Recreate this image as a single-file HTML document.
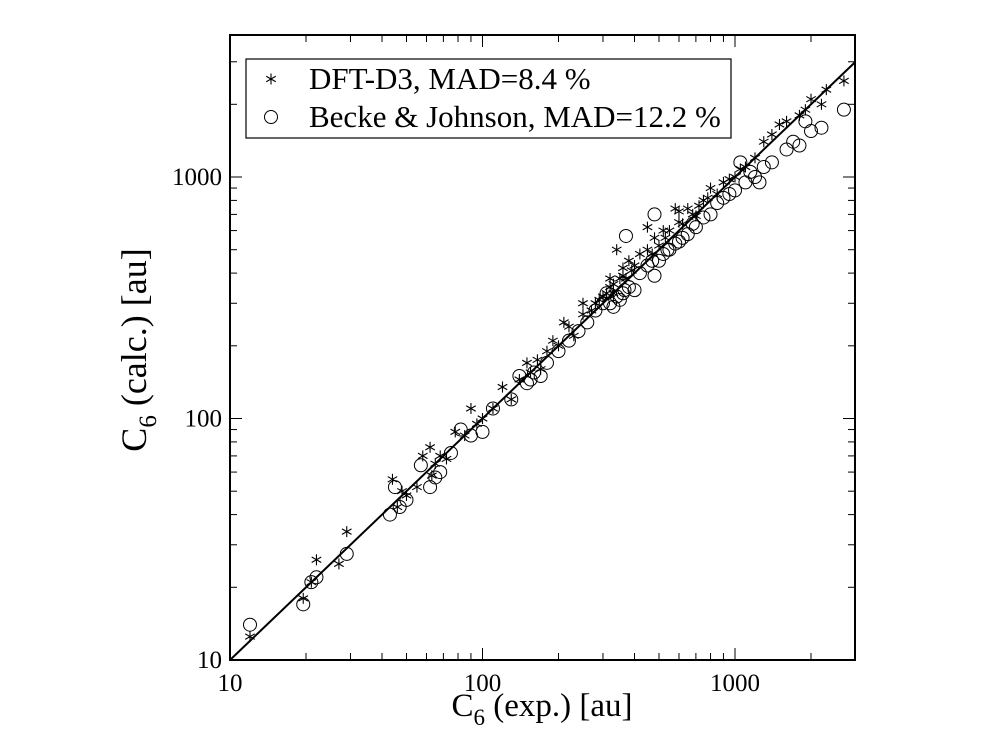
<!DOCTYPE html>
<html><head><meta charset="utf-8"><style>
html,body{margin:0;padding:0;background:#fff;}
svg{display:block;font-family:"Liberation Serif",serif;}
</style></head><body>
<svg id="chart" width="994" height="744" viewBox="0 0 994 744" xmlns="http://www.w3.org/2000/svg">
<g id="marks"></g>
<g id="axes"></g>
<rect x="230" y="35" width="625" height="625" fill="none" stroke="#000" stroke-width="2"/>
<g>
<rect x="246" y="59" width="485" height="79" fill="#fff" stroke="#000" stroke-width="1.2"/>
<g id="legstar"></g>
<circle cx="271" cy="117" r="6.5" fill="none" stroke="#000" stroke-width="1"/>
<text x="309" y="89" font-size="31">DFT-D3, MAD=8.4 %</text>
<text x="309" y="127" font-size="31">Becke &amp; Johnson, MAD=12.2 %</text>
</g>
<text x="542" y="716" font-size="33" text-anchor="middle">C<tspan font-size="23" dy="9">6</tspan><tspan dy="-9"> (exp.) [au]</tspan></text>
<text transform="translate(146,350) rotate(-90)" font-size="36" text-anchor="middle">C<tspan font-size="25" dy="10">6</tspan><tspan dy="-10"> (calc.) [au]</tspan></text>
</svg>
<script>
const xTicks=[10,100,1000];
const yTicks=[10,100,1000];
const xTickLabels=["10","100","1000"];
const yTickLabels=["10","100","1000"];
const d3Exp=[12,19.5,22,21,27,29,44,46,48,50,55,58,62,63,65,68,72,78,85,90,95,100,110,120,130,140,150,155,165,170,180,200,210,220,230,250,270,280,300,320,330,350,360,370,380,400,420,450,480,500,520,550,580,600,650,700,750,800,850,900,1000,1100,1200,1300,1400,1600,1800,2000,2200,2700,320,340,450,600,250,190,290,310,330,360,390,470,530,620,680,720,780,950,1050,1500,1900,2300];
const d3Calc=[12.5,18,26,21,25,34,56,43,50,48,52,70,76,58,65,70,68,88,85,110,95,100,110,135,120,145,170,155,175,160,190,200,250,240,220,270,280,300,320,350,330,380,420,380,450,430,480,500,560,520,600,600,740,650,740,690,800,900,850,950,1000,1100,1200,1400,1500,1700,1800,2100,2000,2500,380,500,620,720,300,210,310,330,360,390,410,480,560,640,700,760,820,980,1080,1650,1900,2300];
const bjExp=[12,19.5,21,22,29,43,45,47,50,57,62,65,68,75,82,90,100,110,130,150,160,170,200,220,240,280,300,330,350,360,370,380,400,480,480,500,520,550,600,650,700,750,800,900,1000,1050,1100,1200,1300,1400,1600,1800,2000,2200,2700,1250,310,420,580,140,155,180,260,320,340,365,450,470,540,620,680,850,950,1150,1700,1900];
const bjCalc=[14,17,21,22,27.5,40,52,43,46,64,52,57,60,72,90,85,88,110,120,140,155,150,190,210,230,280,300,290,310,330,570,350,340,700,390,450,480,500,540,580,620,680,700,820,880,1150,950,1000,1100,1150,1300,1350,1550,1600,1900,950,330,400,530,150,145,170,250,300,320,340,430,450,500,560,640,780,850,1050,1400,1700];
const L=230,R=855,T=35,B=660;
const xDec=252.5,yDec=241.5;
function sx(v){return L+(Math.log10(v)-1)*xDec;}
function sy(v){return B-(Math.log10(v)-1)*yDec;}
const NS="http://www.w3.org/2000/svg";
function mk(tag,attrs,parent){const e=document.createElementNS(NS,tag);for(const k in attrs)e.setAttribute(k,attrs[k]);parent.appendChild(e);return e;}
const axes=document.getElementById('axes'),marks=document.getElementById('marks');
const xmaxV=Math.pow(10,1+(R-L)/xDec), ymaxV=Math.pow(10,1+(B-T)/yDec);
for(let d=10;d<=1000;d*=10){for(let m=1;m<10;m++){const v=d*m;
 if(v<=xmaxV){const x=sx(v),len=m===1?12:7;
  const t1=mk('line',{x1:x,x2:x,y1:B,y2:B-len,stroke:'#000','stroke-width':1},axes);
  
  const t2=mk('line',{x1:x,x2:x,y1:T,y2:T+len,stroke:'#000','stroke-width':1},axes);
  }
 if(v<=ymaxV){const y=sy(v),len=m===1?12:7;
  const t1=mk('line',{x1:L,x2:L+len,y1:y,y2:y,stroke:'#000','stroke-width':1},axes);
  
  const t2=mk('line',{x1:R,x2:R-len,y1:y,y2:y,stroke:'#000','stroke-width':1},axes);
  }
}}
xTicks.forEach((v,i)=>{const t=mk('text',{x:sx(v),y:B+31,'font-size':25,'text-anchor':'middle'},axes);t.textContent=xTickLabels[i];
 });
yTicks.forEach((v,i)=>{const t=mk('text',{x:L-8,y:sy(v)+8,'font-size':25,'text-anchor':'end'},axes);t.textContent=yTickLabels[i];
 });
const lineEnd=Math.min(xmaxV,ymaxV);
const dl=mk('line',{x1:sx(10),y1:sy(10),x2:sx(lineEnd),y2:sy(lineEnd),stroke:'#000','stroke-width':2},marks);

function star(x,y,parent,r){const g=mk('g',{stroke:'#000','stroke-width':1.1},parent);
 for(let k=0;k<3;k++){const a=Math.PI/2+k*Math.PI/3;mk('line',{x1:x-r*Math.cos(a),y1:y-r*Math.sin(a),x2:x+r*Math.cos(a),y2:y+r*Math.sin(a)},g);}
 return g;}
bjExp.forEach((v,i)=>{const c=mk('circle',{cx:sx(v),cy:sy(bjCalc[i]),r:6.5,fill:'none',stroke:'#000','stroke-width':1},marks);
 });
d3Exp.forEach((v,i)=>{const g=star(sx(v),sy(d3Calc[i]),marks,5.5);
 });
star(271,79,document.getElementById('legstar'),5.5);
</script>
</body></html>
